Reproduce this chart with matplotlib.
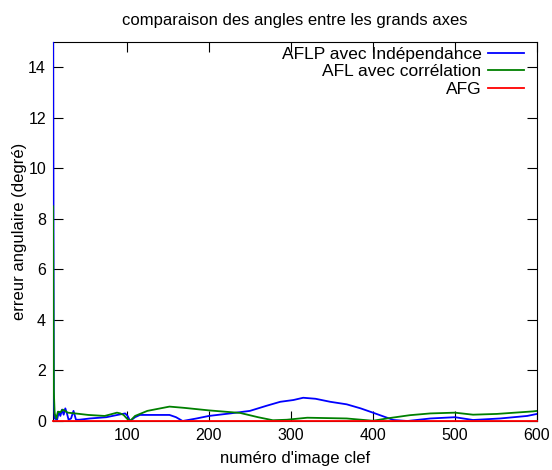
import matplotlib
matplotlib.use("Agg")
import matplotlib.pyplot as plt
import numpy as np

plt.rcParams['font.family'] = ['Liberation Sans', 'DejaVu Sans']
plt.rcParams['font.size'] = 11.5

# numéro d'image clef / erreur angulaire (degré)
x_aflp = [10, 11, 12, 15, 17, 19, 21, 23, 25, 27, 29, 32, 35, 38, 42, 55, 75,
          90, 98, 101, 104, 110, 116, 130, 152, 160, 168, 185, 200, 226, 250,
          270, 287, 303, 315, 330, 348, 368, 385, 400, 425, 442, 470, 500,
          522, 555, 588, 600]
y_aflp = [20.0, 0.6, 0.1, 0.05, 0.35, 0.2, 0.45, 0.25, 0.5, 0.3, 0.05, 0.1,
          0.4, 0.05, 0.05, 0.1, 0.15, 0.25, 0.3, 0.2, 0.0, 0.15, 0.24, 0.24,
          0.24, 0.15, 0.0, 0.1, 0.2, 0.3, 0.4, 0.6, 0.76, 0.83, 0.92, 0.88,
          0.76, 0.66, 0.5, 0.33, 0.04, 0.0, 0.1, 0.15, 0.04, 0.1, 0.2, 0.28]

x_afl = [10, 11, 12, 14, 16, 19, 22, 28, 37, 53, 73, 88, 92, 96, 100, 104,
         110, 125, 152, 170, 200, 238, 260, 278, 295, 320, 368, 400, 421, 445,
         470, 500, 522, 551, 595, 600]
y_afl = [8.5, 1.2, 0.3, 0.1, 0.37, 0.35, 0.45, 0.33, 0.3, 0.24, 0.2, 0.33,
         0.3, 0.24, 0.1, 0.0, 0.2, 0.4, 0.57, 0.52, 0.42, 0.32, 0.15, 0.03,
         0.05, 0.13, 0.1, 0.01, 0.12, 0.23, 0.3, 0.33, 0.25, 0.28, 0.38, 0.4]

x_afg = [10, 600]
y_afg = [0.0, 0.0]

labels = ["AFLP avec Indépendance", "AFL avec corrélation", "AFG"]
colors = ["#0000ff", "#008000", "#ff0000"]

fig = plt.figure(figsize=(5.52, 4.70), dpi=100)
ax = fig.add_axes([53/552, 49/470, 484/552, 379/470])

ax.plot(x_aflp, y_aflp, color=colors[0], lw=1.3, label=labels[0], zorder=3)
ax.plot(x_afl, y_afl, color=colors[1], lw=1.3, label=labels[1], zorder=3)
ax.plot(x_afg, y_afg, color=colors[2], lw=1.3, label=labels[2], zorder=3,
        clip_on=False)

ax.set_xlim(10, 600)
ax.set_ylim(0, 15)
ax.set_xticks(np.arange(100, 601, 100))
ax.set_yticks(np.arange(0, 15, 2))
ax.tick_params(direction='in', top=True, right=True, length=7, width=0.8,
               pad=5)

ax.set_title("comparaison des angles entre les grands axes", fontsize=12,
             pad=12)
ax.set_xlabel("numéro d'image clef", fontsize=12, labelpad=6)
ax.set_ylabel("erreur angulaire (degré)", fontsize=12, labelpad=1)

leg = ax.legend(loc='upper right', bbox_to_anchor=(1 - 13/484, 1 - 5/379),
                frameon=False, markerfirst=False,
                fontsize=12.5, handlelength=2.1, handletextpad=0.35,
                labelspacing=0.12, borderaxespad=0.0, borderpad=0.0)

fig.savefig("out.png", dpi=100)
